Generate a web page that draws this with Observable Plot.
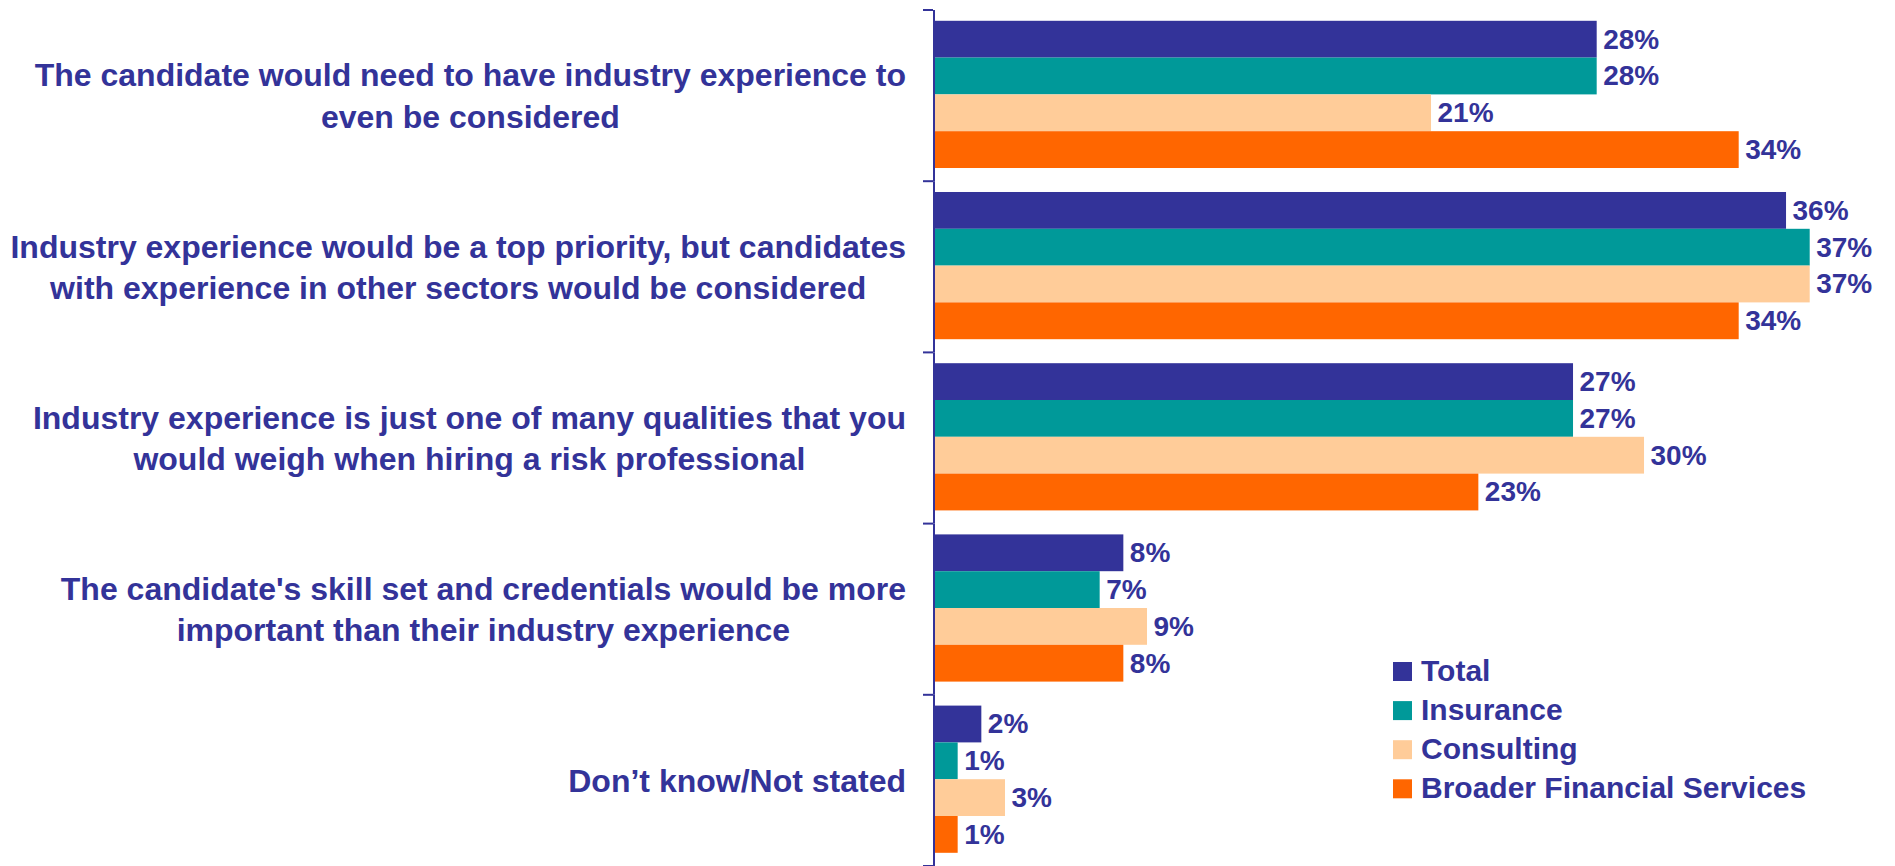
<!DOCTYPE html>
<html><head><meta charset="utf-8">
<script src="https://cdn.jsdelivr.net/npm/d3@7"></script>
<script src="https://cdn.jsdelivr.net/npm/@observablehq/plot@0.6"></script>
<style>
html,body{margin:0;padding:0;background:#fff;}
#chart svg{display:block;}
</style></head><body><div id="chart"></div>
<script>
const categories = [
  "The candidate would need to have industry experience to\neven be considered",
  "Industry experience would be a top priority, but candidates\nwith experience in other sectors would be considered",
  "Industry experience is just one of many qualities that you\nwould weigh when hiring a risk professional",
  "The candidate's skill set and credentials would be more\nimportant than their industry experience",
  "Don\u2019t know/Not stated"
];
const series = ["Total", "Insurance", "Consulting", "Broader Financial Services"];
const total      = [28, 36, 27, 8, 2];
const insurance  = [28, 37, 27, 7, 1];
const consulting = [21, 37, 30, 9, 3];
const broader    = [34, 34, 23, 8, 1];
const colors = ["#333399", "#009999", "#FFCC99", "#FF6600"];
const textColor = "#333399";
const FONT = "'Liberation Sans', Arial, sans-serif";

const valuesBySeries = [total, insurance, consulting, broader];
const rows = [];
categories.forEach((c, i) => series.forEach((s, j) => rows.push({category: c, series: s, value: valuesBySeries[j][i]})));

const W = 1895, H = 866;
const plot = Plot.plot({
  width: W, height: H,
  marginLeft: 934, marginRight: 14.3, marginTop: 10, marginBottom: 0,
  style: {fontFamily: FONT, background: "white", overflow: "visible"},
  x: {domain: [0, 40], axis: null},
  y: {domain: series, paddingInner: 0, paddingOuter: 0.326, align: 0.45, round: false, axis: null},
  fy: {domain: categories, padding: 0, round: false, axis: null},
  color: {domain: series, range: colors},
  marks: [
    Plot.barX(rows, {fy: "category", y: "series", x: "value", fill: "series"}),
    Plot.text(rows, {fy: "category", y: "series", x: "value", text: d => d.value + "%",
      textAnchor: "start", dx: 6, fontSize: 28, fontWeight: "bold", fill: textColor}),
    Plot.ruleX([0], {stroke: textColor, strokeWidth: 2, dx: -0.5})
  ]
});
document.getElementById("chart").appendChild(plot);

const svg = d3.select(plot);
const fy = plot.scale("fy");
const bw = fy.bandwidth;
const axisX = 933;

// boundary ticks
const g = svg.append("g");
const bounds = categories.map(c => fy.apply(c)).concat([fy.apply(categories[categories.length - 1]) + bw]);
g.selectAll("line").data(bounds).join("line")
  .attr("x1", axisX - 10).attr("x2", axisX).attr("y1", d => d).attr("y2", d => d)
  .attr("stroke", textColor).attr("stroke-width", 2);

// category labels: lines centered within a right-aligned block
const canvas = document.createElement("canvas");
const ctx = canvas.getContext("2d");
const labelSize = 32, lineH = 41.5, rightEdge = 906;
ctx.font = `bold ${labelSize}px ${FONT}`;
categories.forEach(c => {
  const lines = c.split("\n");
  const blockW = d3.max(lines, l => ctx.measureText(l).width);
  const cx = rightEdge - blockW / 2;
  const cy = fy.apply(c) + bw / 2;
  const n = lines.length;
  const b1 = cy + 0.716 * labelSize / 2 - (n - 1) * lineH / 2;
  const t = svg.append("text")
    .attr("font-family", FONT).attr("font-size", labelSize).attr("font-weight", "bold")
    .attr("fill", textColor).attr("text-anchor", "middle");
  lines.forEach((l, k) => t.append("tspan").attr("x", cx).attr("y", b1 + k * lineH).text(l));
});

// legend
const color = plot.scale("color");
const lg = svg.append("g").attr("text-anchor", "start");
series.forEach((s, i) => {
  const y0 = 662 + i * 39.1;
  lg.append("rect").attr("x", 1393).attr("y", y0).attr("width", 19).attr("height", 19).attr("fill", color.apply(s));
  lg.append("text").attr("x", 1421).attr("y", y0 + 19).attr("text-anchor", "start")
    .attr("font-family", FONT).attr("font-size", 30).attr("font-weight", "bold")
    .attr("fill", textColor).text(s);
});
</script>
</body></html>
